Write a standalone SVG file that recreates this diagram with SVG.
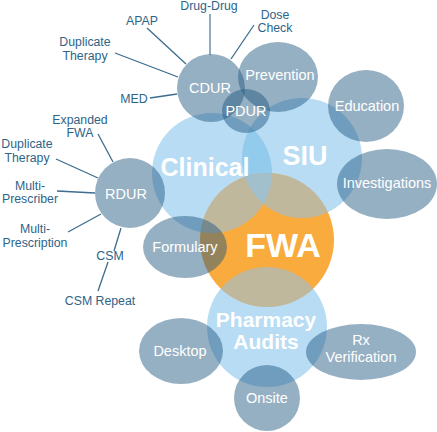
<svg xmlns="http://www.w3.org/2000/svg" width="437" height="432" viewBox="0 0 437 432">
<defs>
<style>
.bl{fill:#6FB9E7;fill-opacity:.5}
.blo{fill:#85C6FC;fill-opacity:.5}
.nd{fill:#205780;fill-opacity:.47}
.wt{fill:#fff;font-family:"Liberation Sans",Arial,sans-serif;font-size:14.5px;text-anchor:middle}
.big{fill:#fff;font-family:"Liberation Sans",Arial,sans-serif;font-weight:bold;text-anchor:middle}
.lb{fill:#2E6488;font-family:"Liberation Sans",Arial,sans-serif;font-size:12.3px;text-anchor:middle}
.ln{stroke:#3C6D8F;stroke-width:1.3;fill:none}
</style>
<clipPath id="fwaClip"><circle cx="267" cy="240" r="67"/></clipPath>
</defs>
<rect width="437" height="432" fill="#fff"/>
<g id="connectors">
<line class="ln" x1="210" y1="14" x2="210" y2="55" style="stroke:#8EABBF;stroke-width:2"/>
<line class="ln" x1="147" y1="28" x2="186" y2="64"/>
<line class="ln" x1="115" y1="53" x2="178" y2="77"/>
<line class="ln" x1="150" y1="98" x2="177" y2="94"/>
<line class="ln" x1="254" y1="25" x2="231" y2="59"/>
<line class="ln" x1="98" y1="134" x2="113" y2="162"/>
<line class="ln" x1="56" y1="159" x2="98" y2="178"/>
<line class="ln" x1="57" y1="191" x2="95" y2="193"/>
<line class="ln" x1="68" y1="232" x2="101" y2="214"/>
<line class="ln" x1="121" y1="228" x2="114" y2="251"/>
<line class="ln" x1="108" y1="262" x2="98" y2="291"/>
</g>
<g id="clinical"><circle class="bl" cx="212" cy="173" r="60"/></g>
<g id="siu"><circle class="bl" cx="302" cy="158" r="60"/></g>
<g id="pharmacy-audits"><circle class="bl" cx="267" cy="327" r="60"/></g>
<g id="fwa">
<circle cx="267" cy="240" r="67" fill="#F9AB3E"/>
<g clip-path="url(#fwaClip)">
<circle class="blo" cx="212" cy="173" r="60"/>
<circle class="blo" cx="302" cy="158" r="60"/>
<circle class="blo" cx="267" cy="327" r="60"/>
</g>
</g>
<g id="cdur"><circle class="nd" cx="211" cy="88" r="34"/><text class="wt" x="210" y="93">CDUR</text></g>
<g id="prevention"><ellipse class="nd" cx="278" cy="77" rx="40" ry="35"/><text class="wt" x="280" y="80">Prevention</text></g>
<g id="pdur"><ellipse class="nd" cx="246" cy="111" rx="24" ry="22"/><text class="wt" x="246" y="116">PDUR</text></g>
<g id="education"><ellipse class="nd" cx="366" cy="106" rx="38" ry="36"/><text class="wt" x="367" y="111">Education</text></g>
<g id="investigations"><ellipse class="nd" cx="387" cy="184" rx="50" ry="35"/><text class="wt" x="387" y="188">Investigations</text></g>
<g id="rdur"><circle class="nd" cx="130" cy="193" r="35"/><text class="wt" x="126" y="199">RDUR</text></g>
<g id="formulary"><ellipse class="nd" cx="185" cy="247" rx="42" ry="31"/><text class="wt" x="185" y="252">Formulary</text></g>
<g id="desktop"><ellipse class="nd" cx="181" cy="351" rx="42" ry="33"/><text class="wt" x="180" y="356">Desktop</text></g>
<g id="rx-verification"><ellipse class="nd" cx="361" cy="352" rx="55" ry="28"/><text class="wt" x="361" y="345">Rx</text><text class="wt" x="361" y="362">Verification</text></g>
<g id="onsite"><circle class="nd" cx="267" cy="398" r="33"/><text class="wt" x="267" y="403">Onsite</text></g>
<g id="big-labels">
<text class="big" x="205" y="176" font-size="25">Clinical</text>
<text class="big" x="305" y="165" font-size="27">SIU</text>
<text class="big" x="283" y="257" font-size="34">FWA</text>
<text class="big" x="266" y="327" font-size="21">Pharmacy</text>
<text class="big" x="266" y="349" font-size="21">Audits</text>
</g>
<g id="satellite-labels">
<text class="lb" x="209" y="10">Drug-Drug</text>
<text class="lb" x="275" y="19">Dose</text>
<text class="lb" x="275" y="32">Check</text>
<text class="lb" x="142" y="25">APAP</text>
<text class="lb" x="85" y="46">Duplicate</text>
<text class="lb" x="85" y="60">Therapy</text>
<text class="lb" x="134" y="103">MED</text>
<text class="lb" x="80" y="124">Expanded</text>
<text class="lb" x="80" y="137">FWA</text>
<text class="lb" x="27" y="148">Duplicate</text>
<text class="lb" x="27" y="162">Therapy</text>
<text class="lb" x="30" y="190">Multi-</text>
<text class="lb" x="30" y="203">Prescriber</text>
<text class="lb" x="35" y="233">Multi-</text>
<text class="lb" x="35" y="247">Prescription</text>
<text class="lb" x="110" y="260">CSM</text>
<text class="lb" x="100" y="305">CSM Repeat</text>
</g>
</svg>
